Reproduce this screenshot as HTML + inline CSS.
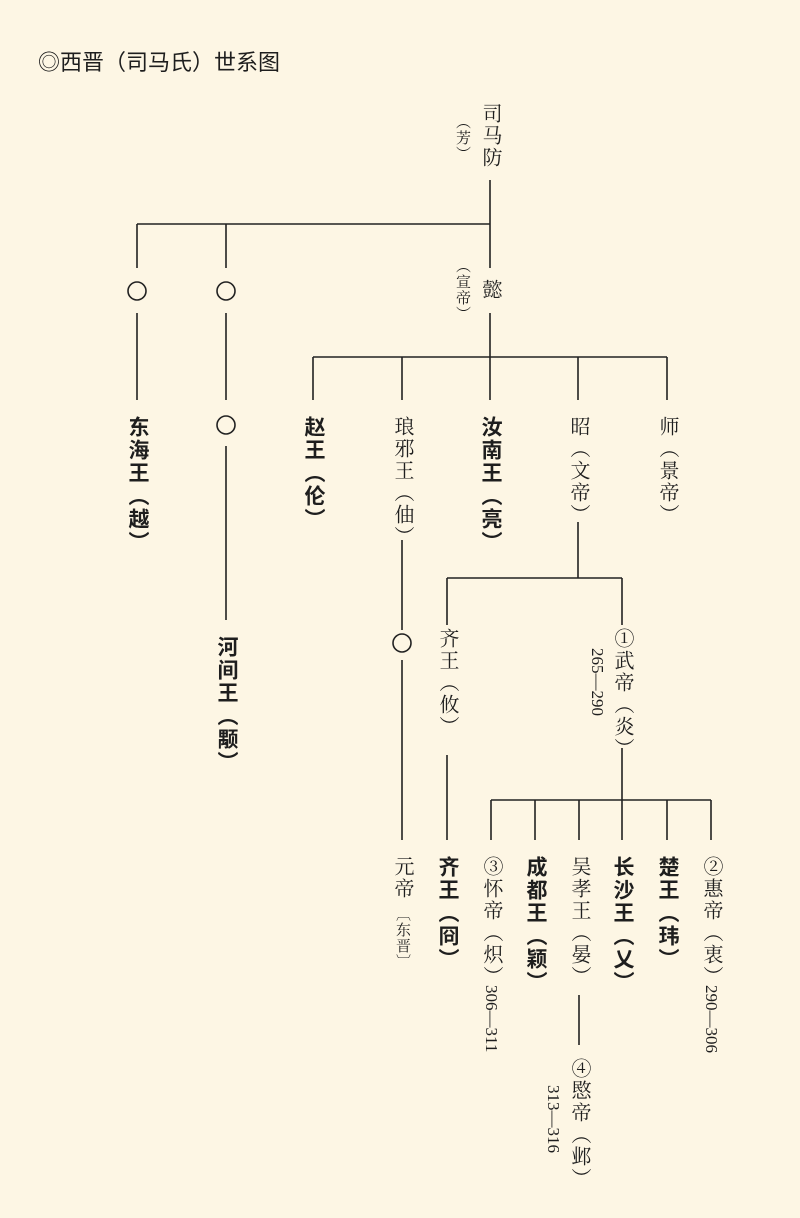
<!DOCTYPE html>
<html><head><meta charset="utf-8"><style>
html,body{margin:0;padding:0}
body{width:800px;height:1218px;background:#fdf6e4;position:relative;overflow:hidden;color:#1e1e1e}
.t{position:absolute;writing-mode:vertical-rl;font-size:20px;line-height:24px;width:24px;letter-spacing:2px;font-family:"Liberation Serif","Noto Serif CJK SC",serif;white-space:nowrap}
.b{font-family:"Liberation Sans","Noto Sans CJK SC",sans-serif;font-weight:bold;font-size:21px}
.s{font-size:15px;line-height:16px;width:16px;letter-spacing:1px}
.n{font-size:17px;line-height:16px;width:16px;letter-spacing:0;font-family:"Liberation Serif","Noto Serif CJK SC",serif}
#title{position:absolute;left:38px;top:45px;font-size:22px;font-family:"Liberation Sans","Noto Sans CJK SC",sans-serif}
</style></head><body>
<div id="title">◎西晋（司马氏）世系图</div>
<svg width="800" height="1218" style="position:absolute;left:0;top:0" fill="none" stroke="#222" stroke-width="1.6">
<path d="M490 180V268M137 224H490M137 224V268M226 224V268"/>
<circle cx="137" cy="291" r="9"/><circle cx="226" cy="291" r="9"/>
<path d="M137 313V400M226 313V400M226 446V620M490 313V400M313 357H667M313 357V400M402 357V400M578 357V400M667 357V400"/>
<circle cx="226" cy="425" r="9"/>
<path d="M578 522V578M447 578H622M447 578V625M622 578V625M402 540V630M402 660V840M447 755V840"/>
<circle cx="402" cy="643" r="9"/>
<path d="M622 748V840M491 800H711M491 800V840M535 800V840M579 800V840M667 800V840M711 800V840M579 995V1045"/>
</svg>
<div class="t" style="left:478px;top:103px">司马防</div>
<div class="t s" style="left:454px;top:114px">（芳）</div>
<div class="t" style="left:478px;top:279px">懿</div>
<div class="t s" style="left:454px;top:258px">（宣帝）</div>
<div class="t b" style="left:125px;top:416px">东海王（越）</div>
<div class="t b" style="left:301px;top:416px">赵王（伦）</div>
<div class="t" style="left:390px;top:416px">琅邪王（伷）</div>
<div class="t b" style="left:478px;top:416px">汝南王（亮）</div>
<div class="t" style="left:566px;top:416px">昭（文帝）</div>
<div class="t" style="left:655px;top:416px">师（景帝）</div>
<div class="t b" style="left:214px;top:636px">河间王（颙）</div>
<div class="t" style="left:435px;top:628px">齐王（攸）</div>
<div class="t" style="left:610px;top:628px">①武帝（炎）</div>
<div class="t n" style="left:589px;top:648px">265—290</div>
<div class="t" style="left:390px;top:856px">元帝</div>
<div class="t s" style="left:394px;top:906px">〔东晋〕</div>
<div class="t b" style="left:435px;top:856px">齐王（冏）</div>
<div class="t" style="left:479px;top:856px">③怀帝（炽）</div>
<div class="t n" style="left:483px;top:985px">306—311</div>
<div class="t b" style="left:523px;top:856px">成都王（颖）</div>
<div class="t" style="left:567px;top:856px">吴孝王（晏）</div>
<div class="t b" style="left:610px;top:856px">长沙王（乂）</div>
<div class="t b" style="left:655px;top:856px">楚王（玮）</div>
<div class="t" style="left:699px;top:856px">②惠帝（衷）</div>
<div class="t n" style="left:703px;top:985px">290—306</div>
<div class="t" style="left:567px;top:1058px">④愍帝（邺）</div>
<div class="t n" style="left:545px;top:1085px">313—316</div>
</body></html>
